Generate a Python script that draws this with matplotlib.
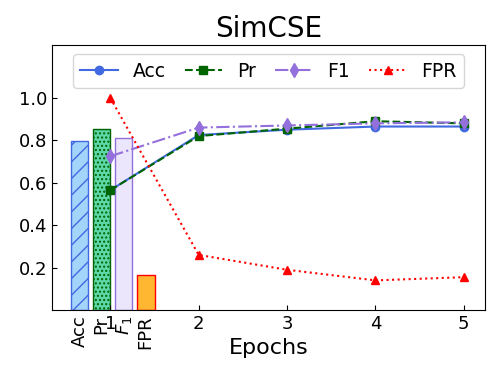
import matplotlib
matplotlib.use("Agg")
import matplotlib.pyplot as plt

epochs = [1, 2, 3, 4, 5]
acc = [0.565, 0.825, 0.85, 0.865, 0.865]
pr = [0.565, 0.82, 0.855, 0.89, 0.88]
f1 = [0.725, 0.86, 0.87, 0.88, 0.885]
fpr = [1.0, 0.26, 0.19, 0.14, 0.155]

bar_names = ["Acc", "Pr", "$F_1$", "FPR"]
bar_pos = [0.65, 0.9, 1.15, 1.4]
bar_vals = [0.795, 0.855, 0.81, 0.165]

fig = plt.figure(figsize=(5, 3.8), dpi=100)
ax = fig.add_axes([0.104, 0.184, 0.866, 0.698])

# bars for the baseline scores
faces = ["#a3d5fb", "#5ed8a8", "#ebe6fb", "#ffb732"]
edges = ["#4169e1", "darkgreen", "mediumpurple", "red"]
hatches = ["//", "....", "", ""]
for p, v, fc, ec, h in zip(bar_pos, bar_vals, faces, edges, hatches):
    ax.bar(p, v, width=0.2, color=fc, edgecolor=ec, hatch=h, linewidth=1)

ax.plot(epochs, acc, color="#4169e1", linestyle="-", marker="o", markersize=6, label="Acc")
ax.plot(epochs, pr, color="darkgreen", linestyle="--", marker="s", markersize=6, label="Pr")
ax.plot(epochs, f1, color="mediumpurple", linestyle="-.", marker="d", markersize=7, label="F1")
ax.plot(epochs, fpr, color="red", linestyle=":", marker="^", markersize=6, label="FPR")

ax.set_xlim(0.34, 5.24)
ax.set_ylim(0, 1.25)
ax.set_yticks([0.2, 0.4, 0.6, 0.8, 1.0])
ax.set_xticks(epochs)
ax.set_xticks(bar_pos, minor=True)
ax.set_xticklabels(bar_names, minor=True, rotation=90, fontsize=13)
ax.tick_params(axis="x", which="minor", length=0, pad=4)
ax.tick_params(axis="both", which="major", direction="in", labelsize=13)

ax.set_xlabel("Epochs", fontsize=16, labelpad=-8)
ax.set_title("SimCSE", fontsize=20)
ax.legend(loc="upper center", ncol=4, fontsize=13.5, handlelength=2, columnspacing=1.0,
          bbox_to_anchor=(0.5, 1.0))

fig.savefig("out.png", dpi=100)
